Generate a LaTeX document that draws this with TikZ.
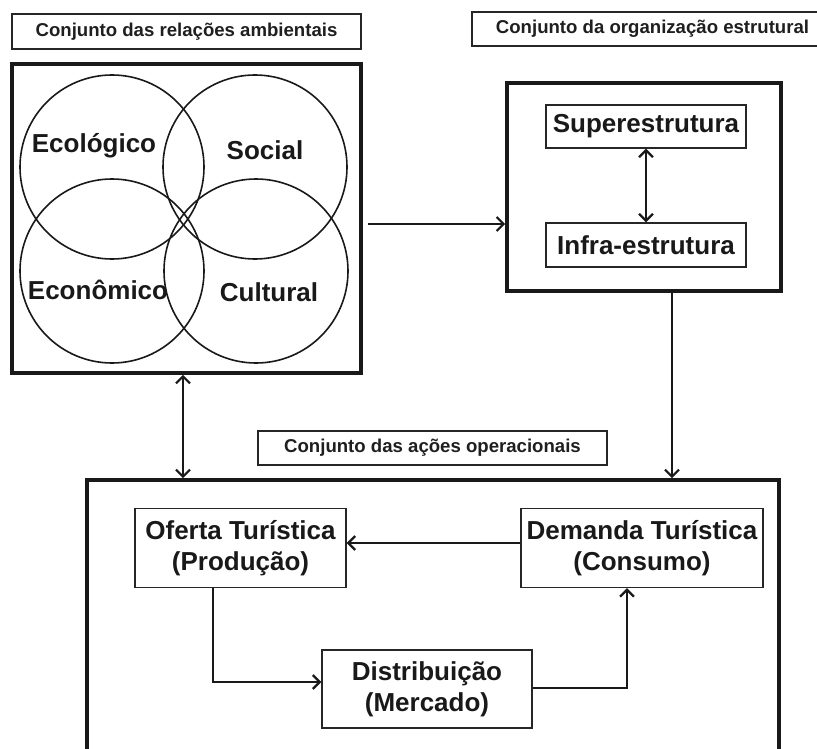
\documentclass[tikz,border=0pt]{standalone}
\usepackage{fontspec}
\setmainfont{Liberation Sans}
\usetikzlibrary{arrows.meta,calc}
\begin{document}
\begin{tikzpicture}[x=1pt,y=-1pt,
  thickbox/.style={draw=black!90, line width=3.6pt, rectangle, inner sep=0pt},
  thinbox/.style={draw=black!85, line width=1.3pt, rectangle, inner sep=0pt, fill=white},
  titlebox/.style={thinbox, font=\fontsize{18.6}{21}\selectfont\bfseries, text=black!88},
  bigtext/.style={font=\fontsize{26}{31}\selectfont\bfseries, text=black!90, align=center},
  ring/.style={circle, draw=black!90, line width=1.6pt, minimum size=184pt, inner sep=0pt},
  conn/.style={draw=black!90, line width=2.2pt, -{Straight Barb[length=7pt,width=14pt,line width=2.2pt]}},
  dconn/.style={draw=black!90, line width=2.2pt, {Straight Barb[length=7pt,width=14pt,line width=2.2pt]}-{Straight Barb[length=7pt,width=14pt,line width=2.2pt]}}
]
\clip (0,0) rectangle (817,749);
\fill[white] (0,0) rectangle (817,749);

% titles
\node[titlebox, minimum width=349pt, minimum height=35pt] (t1) at (186.5,31.5) {Conjunto das relações ambientais};
\node[titlebox, minimum width=361pt, minimum height=34pt] (t2) at (652.5,29) {Conjunto da organização estrutural};
\node[titlebox, minimum width=349pt, minimum height=34pt] (t3) at (432.5,448) {Conjunto das ações operacionais};

% box 1 with circles
\node[thickbox, minimum width=349pt, minimum height=309pt] (box1) at (186.5,218.5) {};
\node[ring] (ce) at (112,167) {};
\node[ring] (cs) at (255,167) {};
\node[ring] (cn) at (112,271) {};
\node[ring] (cc) at (256,271) {};
\node[bigtext] (le) at (94,146) {Ecológico};
\node[bigtext] (ls) at (265,150) {Social};
\node[bigtext] (ln) at (98,290) {Econômico};
\node[bigtext] (lc) at (269,292) {Cultural};

% box 2
\node[thickbox, minimum width=274pt, minimum height=208pt] (box2) at (644,187) {};
\node[thinbox, bigtext, minimum width=200pt, minimum height=43pt] (sup) at (646,126.5) {Superestrutura};
\node[thinbox, bigtext, minimum width=200pt, minimum height=44pt] (inf) at (646,245) {Infra-estrutura};
\draw[dconn] (sup) -- (inf);

% box 3
\node[thickbox, minimum width=692pt, minimum height=290pt] (box3) at (433,625) {};
\node[thinbox, bigtext, minimum width=211pt, minimum height=79pt] (of) at (240.5,548) {Oferta Turística\\(Produção)};
\node[thinbox, bigtext, minimum width=242pt, minimum height=79pt] (dem) at (642,548) {Demanda Turística\\(Consumo)};
\node[thinbox, bigtext, minimum width=210pt, minimum height=78pt] (dis) at (427,689) {Distribuição\\(Mercado)};

% connectors
\coordinate (a1) at (368,224);
\draw[conn] (a1) -- (a1 -| box2.west);
\coordinate (c1) at (183,0);
\draw[dconn] (box1.south -| c1) -- (box3.north -| c1);
\coordinate (c2) at (672,0);
\draw[conn] (box2.south -| c2) -- (box3.north -| c2);
\coordinate (y1) at (0,543);
\draw[conn] (dem.west |- y1) -- (of.east |- y1);
\coordinate (c3) at (213,682);
\draw[conn] (of.south -| c3) |- (dis.west |- c3);
\coordinate (c4) at (627,688);
\draw[conn] (dis.east |- c4) -| (dem.south -| c4);
\end{tikzpicture}
\end{document}
